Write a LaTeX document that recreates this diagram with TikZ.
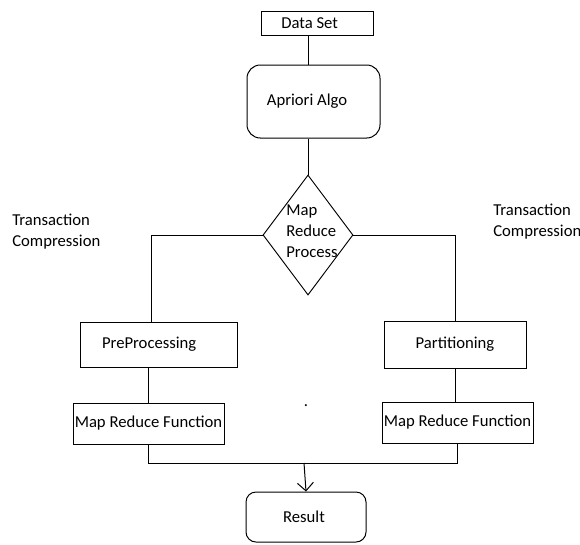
\documentclass[tikz,border=0pt]{standalone}
\usepackage{fontspec}
\setmainfont{Carlito}
\usetikzlibrary{arrows.meta,shapes.geometric}

\begin{document}
\begin{tikzpicture}[
  x=0.75pt,y=-0.75pt,
  font=\fontsize{12.5}{15.75}\selectfont,
  box/.style={draw,line width=0.75pt,inner sep=0pt,align=center},
  rbox/.style={box,rounded corners=#1},
  padr/.style={execute at end node={\hspace*{#1}}},
  dec/.style={draw,diamond,line width=0.7pt,inner sep=0pt},
  lbl/.style={inner sep=0pt,align=left},
  line/.style={line width=0.75pt},
  arr/.style={line,-{Straight Barb[length=6pt,width=12pt]}}
]
\useasboundingbox (0,0) rectangle (580,544);

\node[box,padr=11pt,minimum width=84pt,minimum height=18pt] (data) at (317,23) {Data Set};
\node[rbox=10pt,padr=9.75pt,minimum width=99.75pt,minimum height=54.75pt] (apriori) at (313.5,101.5) {Apriori Algo};
\node[dec,minimum width=67.5pt,minimum height=90pt] (mrp) at (308,235) {};
\node[lbl] (mrptxt) at (312,231) {Map\\Reduce\\Process};

\node[lbl,anchor=west] (tcl) at (12,231.5) {Transaction\\Compression};
\node[lbl,anchor=west] (tcr) at (493,221.5) {Transaction\\Compression};

\node[box,padr=14pt,minimum width=117.75pt,minimum height=33.75pt] (pre) at (158.5,344.5) {PreProcessing};
\node[box,minimum width=106.5pt,minimum height=35.25pt] (part) at (455,344.5) {Partitioning};
\node[box,minimum width=113.25pt,minimum height=30.75pt] (mrfl) at (148.5,423.5) {Map Reduce Function};
\node[box,minimum width=113.25pt,minimum height=30.75pt] (mrfr) at (457.5,422.5) {Map Reduce Function};
\node[inner sep=0pt] (dot) at (306,406) {.};
\node[rbox=7.5pt,padr=3pt,minimum width=90pt,minimum height=37.5pt] (res) at (306,517) {Result};

% spine of the chart
\coordinate (axis) at (308,0);
\coordinate (lft) at (151,0);
\coordinate (merge) at (304,463);

\draw[line] (data.south -| axis) -- (apriori.north -| axis);
\draw[line] (apriori.south -| axis) -- (mrp.north);
\draw[line] (mrp.west) -| (pre.north -| lft);
\draw[line] (mrp.east) -| (part.north);
\draw[line] (pre.south -| mrfl) -- (mrfl.north);
\draw[line] (part.south) -- (part.south |- mrfr.north);
\draw[line] (mrfl.south) |- (merge) -| (mrfr.south);
\draw[arr] (merge) -- (res.north);
\end{tikzpicture}
\end{document}
